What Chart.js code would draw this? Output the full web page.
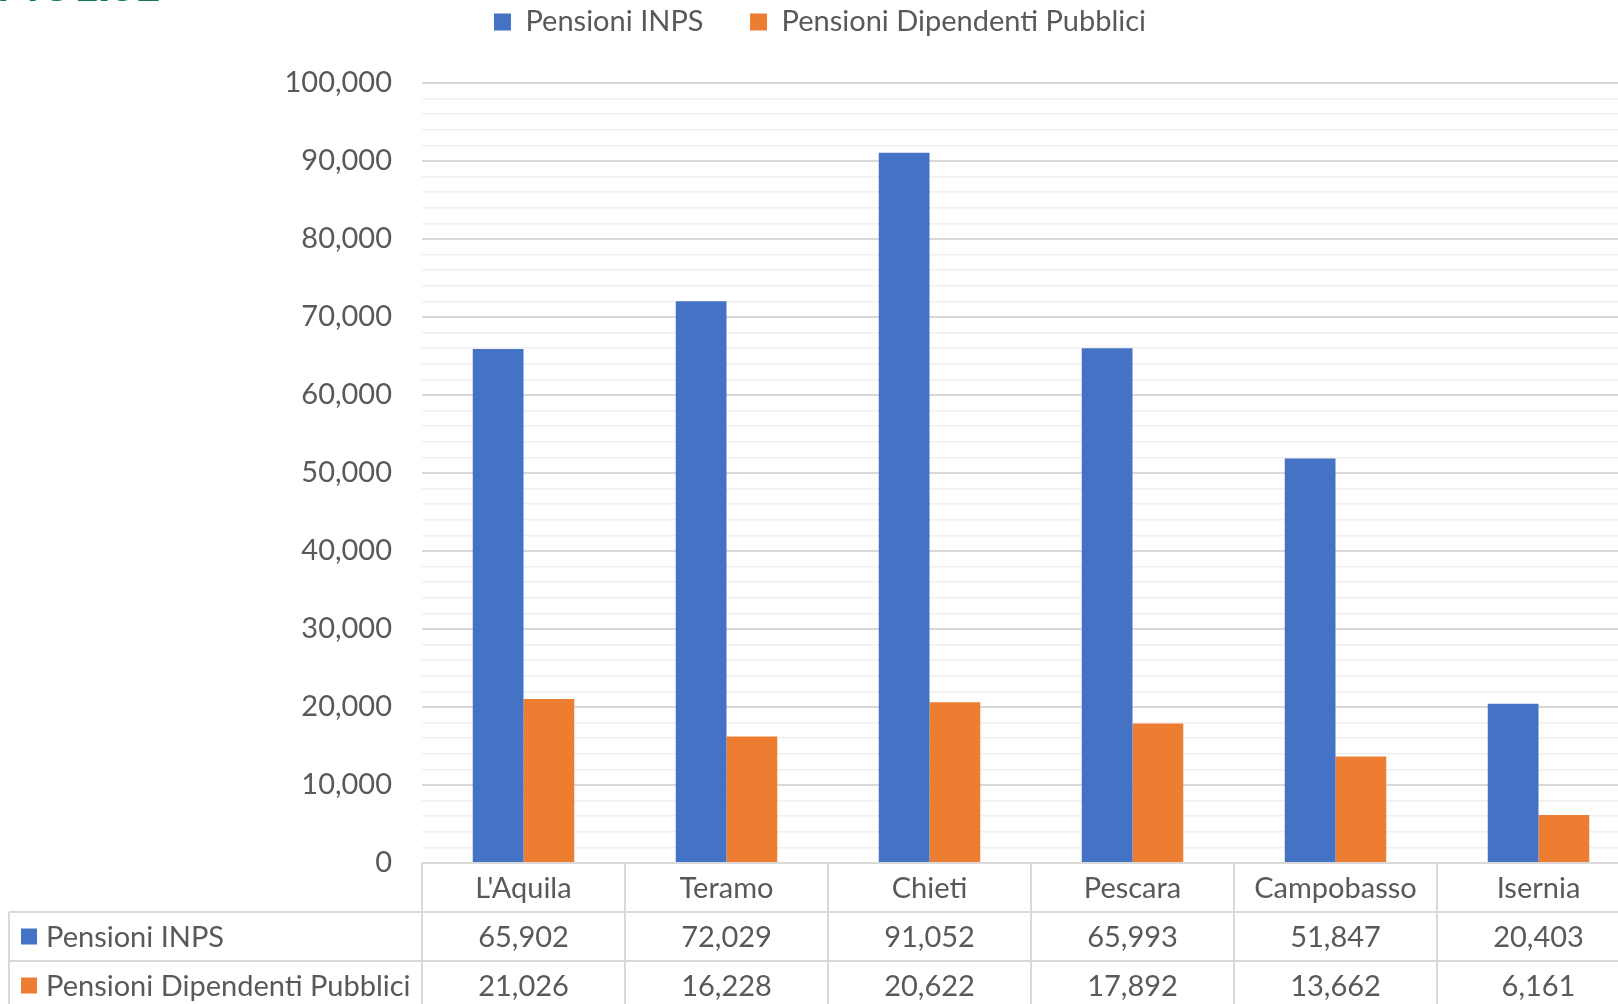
<!DOCTYPE html>
<html>
<head>
<meta charset="utf-8">
<script src="https://cdn.jsdelivr.net/npm/chart.js@4.4.0/dist/chart.umd.min.js"></script>
<style>
  body { margin: 0; overflow: hidden; background: #fff; }
  #wrap { position: relative; width: 1618px; height: 1004px; overflow: hidden; }
  #head { position: absolute; left: -3px; top: -38px; font: 900 44px/44px Lato, sans-serif; color: #107a4c; white-space: nowrap; }
  canvas { position: absolute; left: 0; top: 0; }
</style>
</head>
<body>
<div id="wrap">
  <canvas id="chart" width="1640" height="1004"></canvas>
  <div id="head">MOLISE</div>
</div>
<script>
var categories = ["L'Aquila", 'Teramo', 'Chieti', 'Pescara', 'Campobasso', 'Isernia'];
var pensioniInps = [65902, 72029, 91052, 65993, 51847, 20403];
var pensioniPubblici = [21026, 16228, 20622, 17892, 13662, 6161];
var seriesNames = ['Pensioni INPS', 'Pensioni Dipendenti Pubblici'];
var seriesColors = ['#4472C4', '#ED7D31'];

var textColor = '#595959';
var fontFace = 'Lato, sans-serif';
var fmt = function (v) { return v.toLocaleString('en-US'); };

// draws the data table under the plot, using the x scale columns
var dataTable = {
    id: 'dataTable',
    afterDraw: function (chart) {
        var c = chart.ctx, area = chart.chartArea, xs = chart.scales.x;
        var n = categories.length;
        var colW = (area.right - area.left) / n;
        var rowH = 49;
        var top = area.bottom;
        var tableLeft = 9;
        c.save();
        c.strokeStyle = '#D9D9D9';
        c.lineWidth = 2;
        c.beginPath();
        c.moveTo(area.left, top); c.lineTo(area.right, top);
        for (var r = 1; r <= 3; r++) {
            c.moveTo(tableLeft, top + r * rowH); c.lineTo(area.right, top + r * rowH);
        }
        c.moveTo(tableLeft, top + rowH); c.lineTo(tableLeft, top + 3 * rowH);
        for (var k = 0; k <= n; k++) {
            var bx = area.left + k * colW;
            c.moveTo(bx, top); c.lineTo(bx, top + 3 * rowH);
        }
        c.stroke();

        c.fillStyle = textColor;
        c.font = '29px ' + fontFace;
        c.textAlign = 'center';
        c.textBaseline = 'middle';
        var rows = [pensioniInps, pensioniPubblici];
        categories.forEach(function (cat, i) {
            var cx = xs.getPixelForValue(i);
            c.fillText(cat, cx, top + rowH / 2 + 1);
            rows.forEach(function (vals, j) {
                c.fillText(fmt(vals[i]), cx, top + rowH * (j + 1.5) + 1);
            });
        });
        c.textAlign = 'left';
        rows.forEach(function (vals, j) {
            var cy = top + rowH * (j + 1.5);
            c.fillStyle = seriesColors[j];
            c.fillRect(21, cy - 8, 16, 16);
            c.fillStyle = textColor;
            c.fillText(seriesNames[j], 46, cy + 1);
        });
        c.restore();
    }
};

var ctx = document.getElementById('chart').getContext('2d');
var chart = new Chart(ctx, {
    type: 'bar',
    data: {
        labels: categories,
        datasets: [{
            label: seriesNames[0],
            data: pensioniInps,
            backgroundColor: seriesColors[0]
        }, {
            label: seriesNames[1],
            data: pensioniPubblici,
            backgroundColor: seriesColors[1]
        }]
    },
    options: {
        responsive: false,
        animation: false,
        devicePixelRatio: 1,
        layout: { padding: { top: -39, left: 0, right: 0, bottom: 0 } },
        datasets: { bar: { categoryPercentage: 0.5, barPercentage: 1.0 } },
        plugins: {
            tooltip: { enabled: false },
            legend: {
                position: 'top',
                weight: 1000,
                labels: {
                    color: textColor,
                    font: { family: fontFace, size: 29 },
                    boxWidth: 17,
                    boxHeight: 17,
                    padding: 46.5
                }
            },
            // empty spacer box between legend and plot
            title: {
                display: true,
                text: '',
                position: 'top',
                weight: 500,
                font: { size: 10, lineHeight: 1 },
                padding: { top: 0, bottom: 26.5 }
            }
        },
        scales: {
            x: {
                grid: { display: false },
                border: { display: false },
                ticks: { display: false },
                afterFit: function (scale) { scale.height = 141; }
            },
            y: {
                min: 0,
                max: 100000,
                border: { display: false },
                grid: {
                    drawTicks: false,
                    color: function (c) { return c.tick && c.tick.value % 10000 === 0 ? '#D9D9D9' : '#F0F0F0'; },
                    lineWidth: function (c) { return c.tick && c.tick.value % 10000 === 0 ? 2 : 1.5; }
                },
                ticks: {
                    stepSize: 2000,
                    autoSkip: false,
                    padding: 30,
                    color: textColor,
                    font: { family: fontFace, size: 29 },
                    callback: function (v) { return v % 10000 === 0 ? fmt(v) : ''; }
                },
                afterFit: function (scale) { scale.width = 422; }
            }
        }
    },
    plugins: [dataTable]
});
</script>
</body>
</html>
